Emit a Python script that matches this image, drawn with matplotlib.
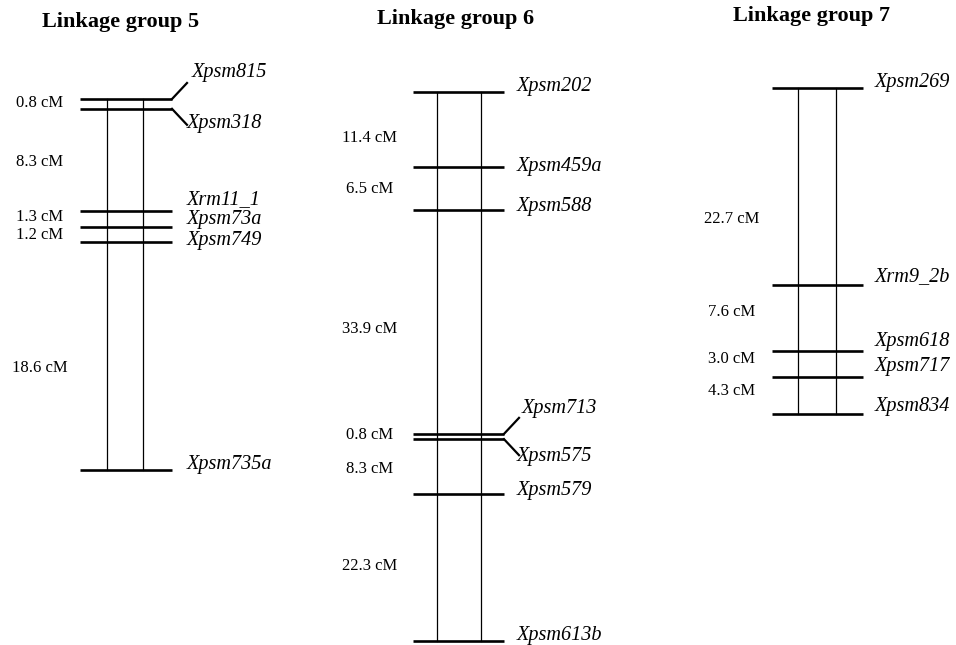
import numpy as np
import matplotlib
matplotlib.use("Agg")
import matplotlib.pyplot as plt

# ---- map data: marker names and distances between adjacent markers (cM) ----
titles = ["Linkage group 5", "Linkage group 6", "Linkage group 7"]

g5_markers = ["Xpsm815", "Xpsm318", "Xrm11_1", "Xpsm73a", "Xpsm749", "Xpsm735a"]
g5_intervals = [0.8, 8.3, 1.3, 1.2, 18.6]

g6_markers = ["Xpsm202", "Xpsm459a", "Xpsm588", "Xpsm713", "Xpsm575",
              "Xpsm579", "Xpsm613b"]
g6_intervals = [11.4, 6.5, 33.9, 0.8, 8.3, 22.3]

g7_markers = ["Xpsm269", "Xrm9_2b", "Xpsm618", "Xpsm717", "Xpsm834"]
g7_intervals = [22.7, 7.6, 3.0, 4.3]

# ---- layout (pixel units of the 956x645 canvas) ----
W, H = 956, 645
layout = [
    dict(top=99, scale=12.3, bar=(80, 172), chrom=(107, 143), label_x=187,
         cm_x=40, title_xy=(121, 22),
         label_off=[-27, 15, -11, -7, -1, -6],
         cm_off=[-1, 2, -2, 1, 12],
         split=(0, 1)),
    dict(top=92, scale=6.6, bar=(413, 504), chrom=(437, 481), label_x=517,
         cm_x=370, title_xy=(456, 19),
         label_off=[-5, -1, -4, -25, 17, -3, -6],
         cm_off=[8.5, 0, 6.5, -2, 2.5, -1.5],
         split=(3, 4)),
    dict(top=88, scale=8.67, bar=(772, 863), chrom=(798, 836), label_x=875,
         cm_x=732, title_xy=(812, 16),
         label_off=[-6, -8, -9, -10, -7],
         cm_off=[33, -5.5, -4.5, -4],
         split=None),
]
groups = [(g5_markers, g5_intervals), (g6_markers, g6_intervals),
          (g7_markers, g7_intervals)]

serif = ["Liberation Serif", "DejaVu Serif"]
fig = plt.figure(figsize=(W / 100, H / 100), dpi=100)

for (markers, intervals), lay, title in zip(groups, layout, titles):
    ax = fig.add_axes([0, 0, 1, 1])
    ax.set_axis_off()
    ax.patch.set_alpha(0)
    s, top = lay["scale"], lay["top"]
    ax.set_xlim(0, W)
    # y axis is in cM; top of canvas maps to the first marker minus its pixel offset
    ax.set_ylim((H - top) / s, -top / s)

    pos = np.concatenate([[0.0], np.cumsum(intervals)])
    x0, x1 = lay["bar"]
    c0, c1 = lay["chrom"]

    # chromosome outline
    ax.plot([c0, c0], [pos[0], pos[-1]], color="black", lw=0.9)
    ax.plot([c1, c1], [pos[0], pos[-1]], color="black", lw=0.9)

    # marker bars
    for p in pos:
        ax.plot([x0, x1], [p, p], color="black", lw=1.9, solid_capstyle="butt")

    # marker names
    split = lay["split"]
    for i, (name, p) in enumerate(zip(markers, pos)):
        ly = p + lay["label_off"][i] / s
        lx = lay["label_x"]
        if split is not None and i in split:
            # tight pair: splay the names apart with short leader lines
            sgn = -1 if i == split[0] else 1
            ax.plot([x1, x1 + 15], [p, p + sgn * 16 / s], color="black", lw=1.6)
            lx = lay["label_x"] + (5 if i == split[0] else 0)
        ax.text(lx, ly, name, ha="left", va="center", fontsize=14.6,
                style="italic", family=serif)

    # interval distances
    for j, d in enumerate(intervals):
        my = (pos[j] + pos[j + 1]) / 2 + lay["cm_off"][j] / s
        ax.text(lay["cm_x"], my, f"{d:.1f} cM", ha="center", va="center",
                fontsize=12, family=serif)

    tx, ty = lay["title_xy"]
    ax.text(tx, -top / s + ty / s, title, ha="center", va="center",
            fontsize=16, fontweight="bold", family=serif)

fig.savefig("out.png", dpi=100, facecolor="white")
